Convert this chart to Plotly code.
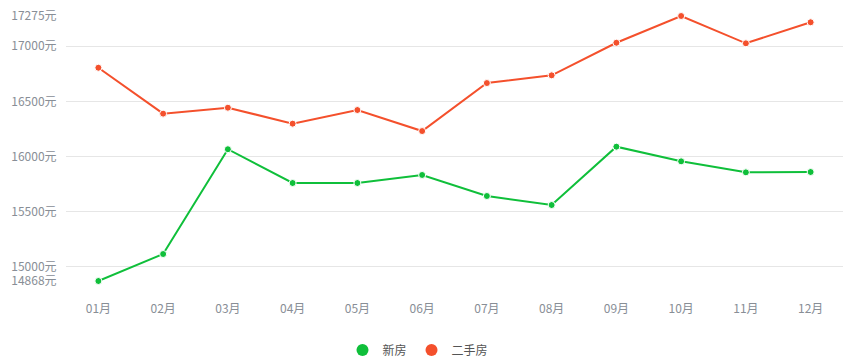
import plotly.graph_objects as go

months = ["01月", "02月", "03月", "04月", "05月", "06月", "07月", "08月", "09月", "10月", "11月", "12月"]
new_house = [14868, 15113, 16065, 15758, 15758, 15831, 15640, 15558, 16088, 15955, 15855, 15858]
second_hand = [16805, 16388, 16442, 16297, 16421, 16230, 16666, 16736, 17032, 17275, 17027, 17218]
y_ticks = [14868, 15000, 15500, 16000, 16500, 17000, 17275]
y_tick_labels = [f"{v}元" for v in y_ticks]

GREEN = "#0fbf3a"
RED = "#f4502c"
FONT = "Noto Sans CJK SC, Microsoft YaHei, sans-serif"

fig = go.Figure()
for name, vals, col in [("新房", new_house, GREEN), ("二手房", second_hand, RED)]:
    fig.add_trace(go.Scatter(
        x=months, y=vals, mode="lines+markers", name=name, showlegend=False,
        line=dict(color=col, width=2),
        marker=dict(color=col, size=7, line=dict(color="white", width=1)),
        legendgroup=name, hoverinfo="x+y", cliponaxis=False,
    ))
    fig.add_trace(go.Scatter(
        x=[None], y=[None], mode="markers", name=name, legendgroup=name,
        marker=dict(color=col, size=12),
    ))

fig.update_layout(
    width=850, height=363,
    margin=dict(l=66, r=7, t=16, b=82, autoexpand=False),
    paper_bgcolor="white", plot_bgcolor="white",
    font=dict(family=FONT, size=12, color="#888e96"),
    showlegend=True,
    legend=dict(orientation="h", xref="paper", yref="paper",
                x=0.453, xanchor="center", y=-0.26, yanchor="middle",
                font=dict(size=12, color="#555555"),
                traceorder="normal", bgcolor="rgba(0,0,0,0)"),
    xaxis=dict(type="category", showgrid=False, zeroline=False, showline=False,
               ticks="outside", ticklen=17, tickcolor="rgba(0,0,0,0)",
               tickfont=dict(size=12, color="#888e96"),
               range=[-0.5, 11.5]),
    yaxis=dict(range=[14868, 17275], tickvals=y_ticks, ticktext=y_tick_labels,
               showgrid=True, gridcolor="#e6e6e6", gridwidth=1, zeroline=False,
               showline=False, ticks="outside", ticklen=6, tickcolor="rgba(0,0,0,0)",
               tickfont=dict(size=12, color="#888e96")),
)

fig.write_html("out.html", config={"displayModeBar": False},
               post_script="document.body.style.margin='0';")
